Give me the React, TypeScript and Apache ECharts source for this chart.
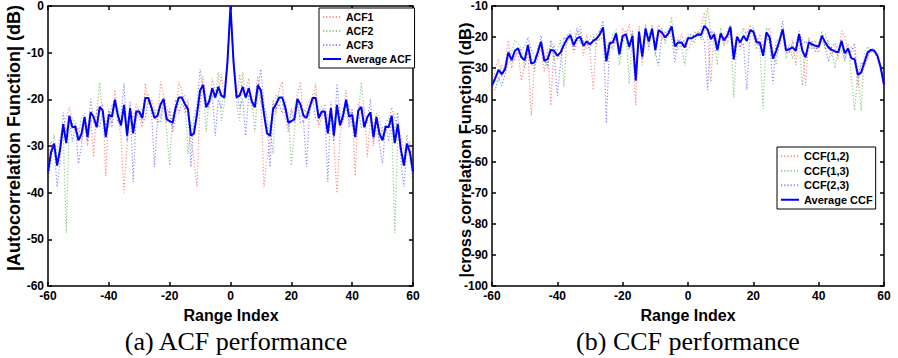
import React, { useEffect, useRef } from "react";
import * as echarts from "echarts";

// Range index (lag) for both panels
const rangeIndex: number[] = [];
for (let k = -60; k <= 60; k++) rangeIndex.push(k);

// ---------- (a) ACF panel, dB values ----------
const acf1 = [
  -33, -29, -31, -31, -28, -26, -24, -21.7, -25, -27,
  -26, -29, -25, -30, -24, -32.4, -22, -23, -21, -36.4,
  -22, -25, -18, -24, -28, -40.1, -30, -22, -24, -21,
  -24, -26, -16.6, -21, -20, -22, -25, -16.2, -19, -22,
  -23, -27, -24, -16.2, -18, -23, -20, -29, -33, -38.8,
  -20, -15, -20, -22, -15.5, -18, -19, -14.6, -20, -12,
  0,
  -12, -20, -14.6, -19, -18, -15.5, -22, -20, -15, -20,
  -38.8, -33, -29, -20, -23, -18, -16.2, -24, -27, -23,
  -22, -19, -16.2, -25, -22, -20, -21, -16.6, -26, -24,
  -21, -24, -22, -30, -40.1, -28, -24, -18, -25, -22,
  -36.4, -21, -23, -22, -32.4, -24, -30, -25, -29, -26,
  -27, -25, -21.7, -24, -26, -28, -31, -31, -29, -33,
];
const acf2 = [
  -38, -33, -27.5, -33, -31, -27, -48.6, -25, -24, -25,
  -28, -24, -23, -26, -24.5, -25, -23, -16.4, -24, -25,
  -26, -21, -21.5, -22, -26, -22, -25, -24, -26, -24,
  -21.5, -22.5, -18.9, -19, -23, -23, -22, -24, -20, -27,
  -34.2, -23, -22, -21, -20, -19, -31.7, -25, -27, -22,
  -21, -18, -27, -19, -19, -20, -14.2, -24.6, -21, -12.5,
  0,
  -12.5, -21, -24.6, -14.2, -20, -19, -19, -27, -18, -21,
  -22, -27, -25, -31.7, -19, -20, -21, -22, -23, -34.2,
  -27, -20, -24, -22, -23, -23, -19, -18.9, -22.5, -21.5,
  -24, -26, -24, -25, -22, -26, -22, -21.5, -21, -26,
  -25, -24, -16.4, -23, -25, -24.5, -26, -23, -24, -28,
  -25, -24, -25, -48.6, -27, -31, -33, -27.5, -33, -38,
];
const acf3 = [
  -36, -32, -30, -38.8, -33, -22.8, -27, -24, -29, -25.5,
  -33.8, -30, -23.5, -29, -19.9, -24.5, -25, -26, -22.5, -26,
  -22.5, -26, -21, -25, -23.5, -16.6, -29, -20.5, -37.7, -23.5,
  -23, -25, -24, -20, -22.5, -34.5, -24.5, -25, -21, -25,
  -22, -26, -20, -23, -21, -22, -21, -34.5, -24, -21,
  -13.5, -18, -21, -21, -19, -27.8, -20, -22, -18, -11.5,
  0,
  -11.5, -18, -22, -20, -27.8, -19, -21, -21, -18, -13.5,
  -21, -24, -34.5, -21, -22, -21, -23, -20, -26, -22,
  -25, -21, -25, -24.5, -34.5, -22.5, -20, -24, -25, -23,
  -23.5, -37.7, -20.5, -29, -16.6, -23.5, -25, -21, -26, -22.5,
  -26, -22.5, -26, -25, -24.5, -19.9, -29, -23.5, -30, -33.8,
  -25.5, -29, -24, -27, -22.8, -33, -38.8, -30, -32, -36,
];
const acfAvg = [
  -35.6, -31.3, -29.5, -34.2, -30.6, -25.3, -29.4, -23.5, -26.0, -25.8,
  -28.8, -27.4, -23.8, -28.1, -22.8, -23.8, -26.0, -21.6, -22.4, -28.1,
  -23.3, -23.7, -20.1, -23.5, -25.6, -21.2, -27.8, -21.9, -27.3, -22.6,
  -22.6, -24.0, -19.7, -19.7, -21.7, -24.0, -23.5, -21.1, -19.9, -24.2,
  -24.7, -25.0, -21.7, -19.6, -19.6, -21.0, -22.1, -27.8, -27.3, -23.1,
  -18.1, -16.9, -21.7, -20.4, -17.6, -19.6, -17.3, -19.2, -19.6, -12.0,
  0,
  -12.0, -19.6, -19.2, -17.3, -19.6, -17.6, -20.4, -21.7, -16.9, -18.1,
  -23.1, -27.3, -27.8, -22.1, -21.0, -19.6, -19.6, -21.7, -25.0, -24.7,
  -24.2, -19.9, -21.1, -23.5, -24.0, -21.7, -19.7, -19.7, -24.0, -22.6,
  -22.6, -27.3, -21.9, -27.8, -21.2, -25.6, -23.5, -20.1, -23.7, -23.3,
  -28.1, -22.4, -21.6, -26.0, -23.8, -22.8, -28.1, -23.8, -27.4, -28.8,
  -25.8, -26.0, -23.5, -29.4, -25.3, -30.6, -34.2, -29.5, -31.3, -35.6,
];

// ---------- (b) CCF panel ----------
const ccf12 = [
  -38, -30, -27, -33, -29, -21, -30, -26, -25, -34,
  -29, -25, -45.2, -29, -27, -24, -31, -24, -42, -22,
  -27, -25, -24, -22, -20, -25, -22, -18, -26, -19,
  -25, -37, -19, -21, -20, -24, -21, -23, -19.5, -26,
  -17, -20, -15.9, -22, -41.8, -16.5, -29, -19, -19, -18.5,
  -22, -16, -21, -18, -20, -17, -21, -24, -19, -22,
  -24, -22, -18, -20, -17, -12.1, -20, -34.5, -18, -22,
  -20, -19, -22, -18, -24, -19, -24, -18, -19, -16,
  -20, -24, -19, -23, -19, -17, -25, -26, -23, -19,
  -22, -25, -21, -29, -18, -22, -35.6, -20, -24, -21,
  -25, -20, -19, -22, -26, -23, -27, -18, -20, -25,
  -23, -25, -36, -29, -30, -26, -24, -25, -27, -30,
  -36,
];
const ccf13 = [
  -34, -34, -34, -29, -31, -27, -25, -21, -22, -24,
  -30, -24, -26, -31, -23, -22, -27, -30, -22, -27,
  -24, -21, -36, -19, -21, -20, -19, -16.5, -22, -24,
  -20, -19, -23, -18, -18, -22, -24, -19, -17.5, -29,
  -22, -18, -35, -19, -33, -20, -24, -17, -23, -16,
  -26, -19, -17, -22, -19, -13.5, -25, -20, -23, -29.2,
  -19, -20, -22, -18, -21, -18, -10.5, -19, -21, -29,
  -17, -23, -18, -16, -39.4, -21, -19, -17, -20, -19,
  -17, -20, -23, -43.1, -17, -22, -24, -29, -20, -18,
  -27, -22, -27, -23, -21, -35.6, -25, -24, -21, -25,
  -22, -18, -24, -21, -24, -30, -24, -24, -28, -22,
  -33, -43.6, -31, -43.6, -25, -23, -25, -24, -25, -29,
  -35,
];
const ccf23 = [
  -36, -37, -33, -35.6, -32, -28, -28, -27, -24, -24,
  -23, -20, -24, -26, -26, -19.5, -26, -29, -21, -25,
  -38.8, -28, -20, -21, -18, -24, -17, -22, -21, -22,
  -24, -20, -21, -18, -14.8, -47.7, -22, -24, -20, -23,
  -21, -19, -24, -18, -31, -19, -27, -16, -24, -17,
  -25, -29.2, -19, -21, -17.5, -20, -28, -21, -23, -21,
  -20, -19, -20, -19.5, -20, -21, -37, -18, -19, -23,
  -19.5, -22, -19, -17, -25, -20, -23, -22, -37, -18.5,
  -18, -21, -23, -24, -20, -22, -35, -21, -21, -14.8,
  -25, -25, -22, -22, -19, -21, -22, -21, -23, -24,
  -23, -21, -23, -28, -23, -22, -24, -22, -27, -24,
  -25, -22, -33, -28, -29, -27, -23.5, -24, -26, -31,
  -35,
];
const ccfAvg = [
  -35.6, -33.2, -30.5, -31.9, -30.3, -24.9, -27.4, -24.4, -23.6, -26.5,
  -27.4, -22.5, -28.5, -28.1, -24.9, -21.5, -27.6, -27.1, -24.1, -24.4,
  -26.0, -24.9, -22.5, -20.5, -19.4, -22.6, -20.4, -19.9, -22.8, -21.4,
  -22.3, -21.2, -20.5, -19.1, -16.9, -27.8, -22.0, -21.7, -18.8, -25.5,
  -19.6, -19.1, -23.1, -19.6, -34.0, -18.2, -26.3, -17.3, -21.4, -17.3,
  -24.2, -17.8, -18.5, -20.1, -18.8, -16.6, -23.0, -21.7, -21.7, -23.3,
  -20.4, -20.4, -19.8, -19.1, -19.3, -16.4, -17.5, -20.7, -19.1, -24.2,
  -18.8, -21.0, -19.6, -16.7, -27.2, -19.9, -21.7, -19.6, -21.2, -17.8,
  -18.2, -21.7, -21.7, -26.0, -18.5, -20.1, -26.9, -24.4, -21.2, -17.5,
  -24.2, -23.9, -23.3, -24.4, -19.1, -24.4, -26.5, -21.7, -22.3, -22.8,
  -23.1, -19.6, -21.7, -23.3, -24.1, -24.6, -24.9, -21.2, -25.2, -23.7,
  -26.8, -27.1, -32.1, -31.4, -28.1, -24.9, -24.1, -24.4, -26.0, -29.8,
  -35.3,
];

const acfNames = ["ACF1", "ACF2", "ACF3", "Average ACF"];
const ccfNames = ["CCF(1,2)", "CCF(1,3)", "CCF(2,3)", "Average CCF"];
const xTicks = { min: -60, max: 60, interval: 20 };
const acfY = { min: -60, max: 0, interval: 10 };
const ccfY = { min: -100, max: -10, interval: 10 };

const SANS = "'Liberation Sans', Arial, Helvetica, sans-serif";
const SERIF = "'Liberation Serif', 'Times New Roman', serif";

const pairs = (vals: number[]) => rangeIndex.map((x, i) => [x, vals[i]]);

function makeAxis(gridIndex: number, position: string, range: any, showLabel: boolean) {
  return {
    gridIndex,
    type: "value",
    position,
    min: range.min,
    max: range.max,
    interval: range.interval,
    axisLine: { show: true, onZero: false, lineStyle: { color: "#000", width: 1.5 } },
    axisTick: { show: true, inside: true, length: 4, lineStyle: { color: "#000", width: 1.5 } },
    axisLabel: {
      show: showLabel,
      color: "#000",
      fontWeight: "bold",
      fontSize: 12,
      fontFamily: SANS,
      margin: 4,
    },
    splitLine: { show: false },
  };
}

function dotted(name: string, color: string, vals: number[], xi: number, yi: number) {
  return {
    type: "line",
    name,
    xAxisIndex: xi,
    yAxisIndex: yi,
    data: pairs(vals),
    symbol: "none",
    showSymbol: false,
    silent: true,
    lineStyle: { color, width: 1.2, type: [1.2, 2], opacity: 0.45 },
    itemStyle: { color },
    z: 2,
  };
}

function solid(name: string, vals: number[], xi: number, yi: number) {
  return {
    type: "line",
    name,
    xAxisIndex: xi,
    yAxisIndex: yi,
    data: pairs(vals),
    symbol: "none",
    showSymbol: false,
    silent: true,
    lineStyle: { color: "#0000ff", width: 2, type: "solid" },
    itemStyle: { color: "#0000ff" },
    z: 3,
  };
}

function legendBox(data: string[], left: number, top: number, fontSize: number, lineHeight: number) {
  return {
    data,
    orient: "vertical",
    left,
    top,
    padding: [3, 3, 3, 3],
    itemGap: 2,
    itemWidth: 18,
    itemHeight: 8,
    backgroundColor: "#fff",
    borderColor: "#000",
    borderWidth: 1,
    borderRadius: 0,
    selectedMode: false,
    itemStyle: { opacity: 0, color: "transparent", borderWidth: 0 },
    textStyle: { color: "#000", fontWeight: "bold", fontSize, lineHeight, fontFamily: SANS },
  };
}

function label(text: string, x: number, y: number, font: string, rotation = 0) {
  return {
    type: "text",
    x,
    y,
    rotation,
    silent: true,
    style: {
      text,
      font,
      fill: "#000",
      textAlign: "center",
      textVerticalAlign: "middle",
      align: "center",
      verticalAlign: "middle",
    },
  };
}

export default function App() {
  const ref = useRef<HTMLDivElement>(null);
  useEffect(() => {
    if (!ref.current) return;
    const chart = echarts.init(ref.current, null, { renderer: "svg" });
    const red = "#ff0000";
    const green = "#008a00";
    const blue = "#0000ff";
    chart.setOption({
      animation: false,
      backgroundColor: "#fff",
      grid: [
        { left: 48, top: 5, width: 365, height: 281 },
        { left: 492, top: 5, width: 392, height: 281 },
      ],
      xAxis: [
        makeAxis(0, "bottom", xTicks, true),
        makeAxis(0, "top", xTicks, false),
        makeAxis(1, "bottom", xTicks, true),
        makeAxis(1, "top", xTicks, false),
      ],
      yAxis: [
        makeAxis(0, "left", acfY, true),
        makeAxis(0, "right", acfY, false),
        makeAxis(1, "left", ccfY, true),
        makeAxis(1, "right", ccfY, false),
      ],
      legend: [
        legendBox(acfNames, 319, 8, 10.5, 12),
        legendBox(ccfNames, 777, 147, 11, 12.5),
      ],
      series: [
        dotted(acfNames[0], red, acf1, 0, 0),
        dotted(acfNames[1], green, acf2, 0, 0),
        dotted(acfNames[2], blue, acf3, 0, 0),
        solid(acfNames[3], acfAvg, 0, 0),
        dotted(ccfNames[0], red, ccf12, 2, 2),
        dotted(ccfNames[1], green, ccf13, 2, 2),
        dotted(ccfNames[2], blue, ccf23, 2, 2),
        solid(ccfNames[3], ccfAvg, 2, 2),
      ],
      graphic: [
        label("|Autocorrelation Function| (dB)", 14, 138, `bold 18px ${SANS}`, Math.PI / 2),
        label("|cross correlation Function| (dB)", 465, 150, `bold 16.5px ${SANS}`, Math.PI / 2),
        label("Range Index", 231, 315, `bold 16px ${SANS}`),
        label("Range Index", 688, 315, `bold 16px ${SANS}`),
        label("(a) ACF performance", 236, 341, `26px ${SERIF}`),
        label("(b) CCF performance", 688, 341, `26px ${SERIF}`),
      ],
    });
    return () => chart.dispose();
  }, []);
  return (
    <div
      ref={ref}
      style={{ position: "fixed", left: 0, top: 0, width: 898, height: 358, background: "#fff" }}
    />
  );
}
